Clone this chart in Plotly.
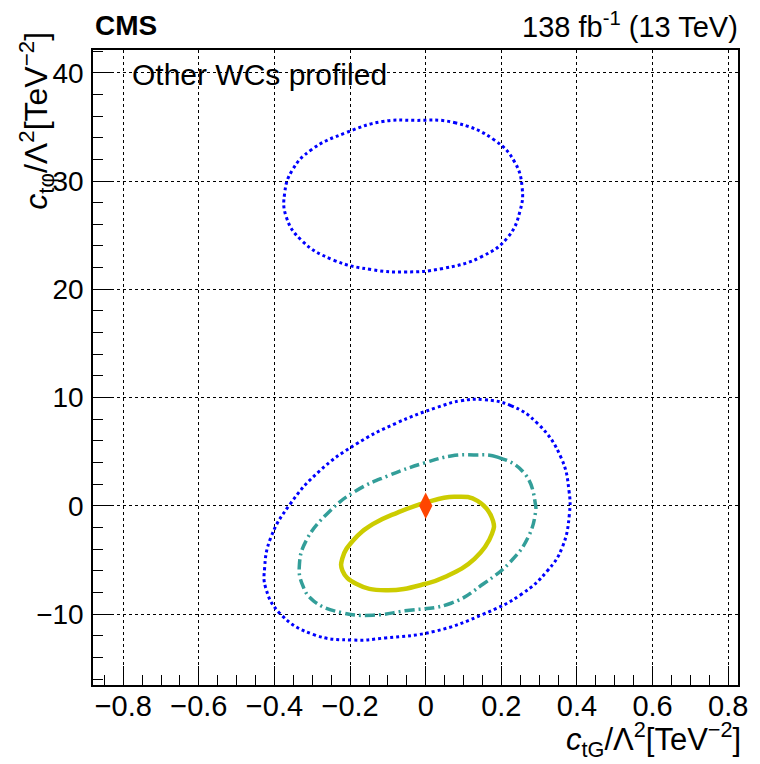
import plotly.graph_objects as go

# ---- data ----
best_fit_x = [0.0]
best_fit_y = [0.0]

# 68% CL (solid yellow)
c68_x = [0.0, 0.075, 0.137, 0.178, 0.175, 0.129, 0.049, 0.0, -0.106, -0.184, -0.220, -0.220, -0.192, -0.140, -0.073, 0.0]
c68_y = [0.3, 0.83, 0.46, -1.4, -2.6, -4.9, -6.6, -7.2, -7.8, -7.2, -6.0, -4.8, -3.2, -1.7, -0.6, 0.3]

# 95% CL (teal dash-dot)
c95_x = [0.127, 0.190, 0.262, 0.290, 0.290, 0.271, 0.226, 0.153, 0.067, -0.055, -0.140, -0.218, -0.296, -0.327, -0.334, -0.316, -0.254, -0.184, -0.099, 0.0, 0.067, 0.127]
c95_y = [4.7, 4.5, 2.96, 0.19, -0.7, -2.9, -5.1, -7.2, -9.0, -9.7, -10.1, -9.9, -8.8, -7.2, -5.4, -3.2, -0.5, 1.39, 2.78, 4.0, 4.6, 4.7]

# 99.7% CL (blue dotted), lower region
c997a_x = [0.153, 0.225, 0.296, 0.358, 0.379, 0.380, 0.361, 0.322, 0.252, 0.153, 0.023, -0.106, -0.192, -0.296, -0.384, -0.423, -0.426, -0.410, -0.358, -0.280, -0.184, -0.080, 0.031, 0.093, 0.153]
c997a_y = [9.8, 9.26, 7.6, 4.46, 1.39, -0.77, -3.85, -6.0, -8.2, -10.0, -11.6, -12.2, -12.4, -11.9, -10.0, -7.6, -5.7, -2.96, 0.19, 3.24, 5.7, 7.6, 9.1, 9.7, 9.8]

# 99.7% CL (blue dotted), upper region
c997b_x = [-0.029, 0.075, 0.181, 0.236, 0.255, 0.250, 0.217, 0.147, 0.042, -0.055, -0.140, -0.244, -0.328, -0.369, -0.373, -0.353, -0.302, -0.208, -0.114, -0.029]
c997b_y = [35.6, 35.4, 33.8, 31.7, 29.4, 27.3, 24.8, 23.0, 21.9, 21.6, 21.8, 22.7, 24.5, 26.7, 28.9, 31.0, 32.9, 34.5, 35.5, 35.6]

x_range = [-0.88, 0.826]
y_range = [-16.55, 42.1]

FONT = "Liberation Sans, Arial, Helvetica, sans-serif"
SMOOTH = 1.3

fig = go.Figure()

fig.add_trace(go.Scatter(x=c997a_x, y=c997a_y, mode="lines",
                         line=dict(color="#0000ff", width=3, dash="dot", shape="spline", smoothing=SMOOTH),
                         showlegend=False, hoverinfo="skip"))
fig.add_trace(go.Scatter(x=c997b_x, y=c997b_y, mode="lines",
                         line=dict(color="#0000ff", width=3, dash="dot", shape="spline", smoothing=SMOOTH),
                         showlegend=False, hoverinfo="skip"))
fig.add_trace(go.Scatter(x=c95_x, y=c95_y, mode="lines",
                         line=dict(color="#339e99", width=3.5, dash="10px,4px,2px,4px", shape="spline", smoothing=SMOOTH),
                         showlegend=False, hoverinfo="skip"))
fig.add_trace(go.Scatter(x=c68_x, y=c68_y, mode="lines",
                         line=dict(color="#cccc00", width=4.5, shape="spline", smoothing=SMOOTH),
                         showlegend=False, hoverinfo="skip"))
fig.add_trace(go.Scatter(x=best_fit_x, y=best_fit_y, mode="markers",
                         marker=dict(symbol="diamond-tall", size=19, color="#ff4500", line=dict(width=0)),
                         showlegend=False, hoverinfo="skip"))

axis_common = dict(
    showline=True, linecolor="black", linewidth=1.5, mirror=True,
    ticks="inside", tickcolor="black", ticklen=19, tickwidth=1.2,
    showgrid=True, gridcolor="black", griddash="dot", gridwidth=1,
    zeroline=False,
)

fig.update_xaxes(range=x_range, tick0=0, dtick=0.2,
                 tickfont=dict(family=FONT, size=29, color="black"),
                 ticklabelstandoff=-6,
                 minor=dict(ticks="inside", ticklen=10, dtick=0.05, tick0=0, tickcolor="black", tickwidth=1.2, showgrid=False),
                 **axis_common)
fig.update_yaxes(range=y_range, tick0=0, dtick=10,
                 tickfont=dict(family=FONT, size=28, color="black"),
                 ticklabelstandoff=2,
                 minor=dict(ticks="inside", ticklen=10, dtick=2, tick0=0, tickcolor="black", tickwidth=1.2, showgrid=False),
                 **axis_common)

L, R, T, B = 93, 13, 50, 79
W, H = 760, 764
pw, ph = W - L - R, H - T - B

def px_to_paper(px, py):
    return (px - L) / pw, (H - B - py) / ph

annotations = []
x0, y0 = px_to_paper(93, 25)
annotations.append(dict(text="<b>CMS</b>", x=x0, y=y0, xref="paper", yref="paper",
                        xanchor="left", yanchor="middle", showarrow=False,
                        font=dict(family=FONT, size=28, color="black")))
x0, y0 = px_to_paper(749, 25)
annotations.append(dict(text="138 fb<sup>-1</sup> (13 TeV)", x=x0, y=y0, xref="paper", yref="paper",
                        xanchor="right", yanchor="middle", showarrow=False,
                        font=dict(family=FONT, size=29, color="black")))
x0, y0 = px_to_paper(131, 74)
annotations.append(dict(text="Other WCs profiled", x=x0, y=y0, xref="paper", yref="paper",
                        xanchor="left", yanchor="middle", showarrow=False,
                        font=dict(family=FONT, size=30, color="black")))
x0, y0 = px_to_paper(752, 764)
annotations.append(dict(text="<i>c</i><sub>tG</sub>/Λ<sup>2</sup>[TeV<sup>−2</sup>]", x=x0, y=y0,
                        xref="paper", yref="paper", xanchor="right", yanchor="bottom", showarrow=False,
                        font=dict(family=FONT, size=31, color="black")))
x0, y0 = px_to_paper(35, 30)
annotations.append(dict(text="<i>c</i><sub>tφ</sub>/Λ<sup>2</sup>[TeV<sup>−2</sup>]", x=x0, y=y0,
                        xref="paper", yref="paper", xanchor="center", yanchor="top", showarrow=False,
                        textangle=-90,
                        font=dict(family=FONT, size=32, color="black")))

fig.update_layout(
    width=W, height=H,
    margin=dict(l=L, r=R, t=T, b=B),
    paper_bgcolor="white", plot_bgcolor="white",
    annotations=annotations,
    showlegend=False,
)

fig.write_html("out.html")
